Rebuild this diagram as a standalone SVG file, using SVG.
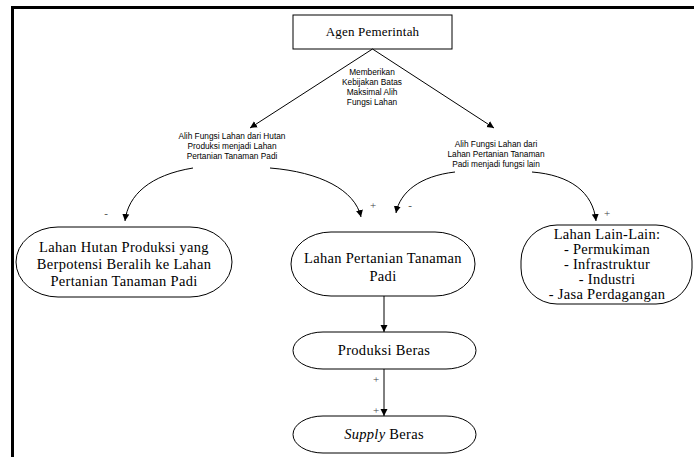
<svg xmlns="http://www.w3.org/2000/svg" width="694" height="457" viewBox="0 0 694 457">
<defs>
<marker id="ah" markerWidth="8" markerHeight="8" refX="7" refY="4" orient="auto" markerUnits="userSpaceOnUse">
<path d="M0,0.5 L7,4 L0,7.5 Z" fill="#000"/>
</marker>
<style>
.node{fill:#fff;stroke:#000;stroke-width:1}
.t{font-family:"Liberation Serif","Times New Roman",serif;font-size:14.5px;letter-spacing:0.3px;fill:#000;text-anchor:middle}
.s{font-family:"Liberation Sans",Arial,sans-serif;font-size:8.3px;fill:#000;text-anchor:middle}
.c{fill:none;stroke:#000;stroke-width:1}
.sign{font-family:"Liberation Serif","Times New Roman",serif;font-size:11px;fill:#444;text-anchor:middle}
</style>
</defs>
<rect width="694" height="457" fill="#fff"/>
<path d="M12.5,457 V7.5 H694" fill="none" stroke="#000" stroke-width="3"/>

<g id="agen">
<rect class="node" x="293" y="15" width="159" height="34"/>
<text class="t" x="372.5" y="36" style="font-size:13px;letter-spacing:0.2px">Agen Pemerintah</text>
</g>

<g id="label-kebijakan">
<text class="s" x="372" y="75">Memberikan</text>
<text class="s" x="372" y="85">Kebijakan Batas</text>
<text class="s" x="372" y="95">Maksimal Alih</text>
<text class="s" x="372" y="105">Fungsi Lahan</text>
</g>

<g id="label-hutan">
<text class="s" x="232" y="139">Alih Fungsi Lahan dari Hutan</text>
<text class="s" x="232" y="149">Produksi menjadi Lahan</text>
<text class="s" x="232" y="159">Pertanian Tanaman Padi</text>
</g>

<g id="label-lain">
<text class="s" x="496" y="147">Alih Fungsi Lahan dari</text>
<text class="s" x="496" y="157">Lahan Pertanian Tanaman</text>
<text class="s" x="496" y="167">Padi menjadi fungsi lain</text>
</g>

<g id="hutan">
<rect class="node" x="16" y="227" width="216" height="70" rx="42" ry="35"/>
<text class="t" x="124" y="252">Lahan Hutan Produksi yang</text>
<text class="t" x="124" y="269">Berpotensi Beralih ke Lahan</text>
<text class="t" x="124" y="286">Pertanian Tanaman Padi</text>
</g>

<g id="pertanian">
<rect class="node" x="291" y="232" width="184" height="64" rx="40" ry="32"/>
<text class="t" x="383" y="263">Lahan Pertanian Tanaman</text>
<text class="t" x="383" y="281">Padi</text>
</g>

<g id="lain">
<rect class="node" x="521" y="225" width="171" height="79" rx="36" ry="36"/>
<text class="t" x="607" y="238.5">Lahan Lain-Lain:</text>
<text class="t" x="607" y="253.5">- Permukiman</text>
<text class="t" x="607" y="268.5">- Infrastruktur</text>
<text class="t" x="607" y="283.5">- Industri</text>
<text class="t" x="607" y="298.5">- Jasa Perdagangan</text>
</g>

<g id="produksi">
<rect class="node" x="293" y="332" width="183" height="37" rx="30" ry="18.5"/>
<text class="t" x="384" y="355">Produksi Beras</text>
</g>

<g id="supply">
<rect class="node" x="293" y="416" width="183" height="37" rx="30" ry="18.5"/>
<text class="t" x="384" y="439"><tspan font-style="italic">Supply</tspan> Beras</text>
</g>

<g id="connectors">
<line class="c" x1="372.5" y1="49" x2="250" y2="128" marker-end="url(#ah)"/>
<line class="c" x1="372.5" y1="49" x2="494" y2="128" marker-end="url(#ah)"/>
<path class="c" d="M193,168 C150,175 128,195 125,221" marker-end="url(#ah)"/>
<path class="c" d="M270,168 C320,172 355,190 361,217" marker-end="url(#ah)"/>
<path class="c" d="M455,172 C420,176 400,192 396,213" marker-end="url(#ah)"/>
<path class="c" d="M532,172 C570,175 593,192 596,221" marker-end="url(#ah)"/>
<line class="c" x1="384" y1="296" x2="384" y2="332" marker-end="url(#ah)"/>
<line class="c" x1="384" y1="369" x2="384" y2="416" marker-end="url(#ah)"/>
<text class="sign" x="106" y="217">-</text>
<text class="sign" x="373" y="209">+</text>
<text class="sign" x="410" y="209">-</text>
<text class="sign" x="607" y="217">+</text>
<text class="sign" x="376" y="383">+</text>
<text class="sign" x="376" y="414">+</text>
</g>
</svg>
